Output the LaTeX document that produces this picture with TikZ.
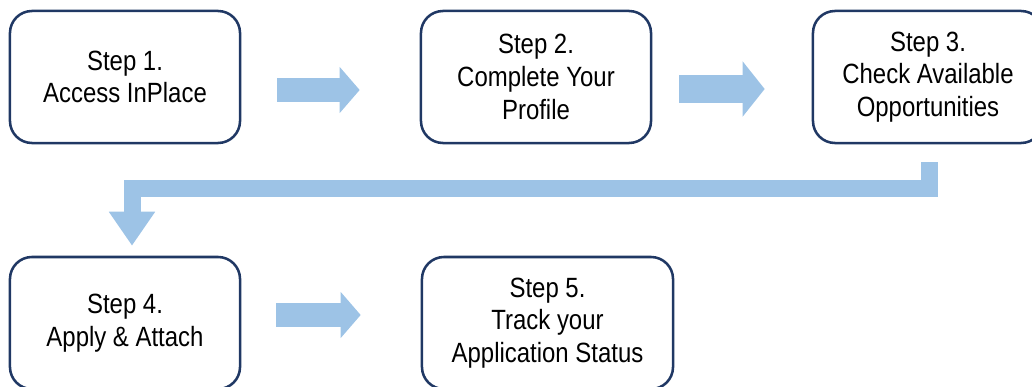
\documentclass[tikz,border=0pt]{standalone}
\usepackage{fontspec}
\setmainfont{Liberation Sans}[FakeStretch=0.86]
\usepackage{xcolor}
\usetikzlibrary{arrows.meta}

\definecolor{boxline}{HTML}{203864}
\definecolor{flowblue}{HTML}{9DC3E6}

\begin{document}
\begin{tikzpicture}[x=0.025cm, y=-0.025cm,
  stepbox/.style={draw=boxline, line width=1.8pt, rounded corners=0.55cm,
    minimum width=5.75cm, minimum height=3.3cm, align=center,
    font=\fontsize{19.8}{23.2}\selectfont},
  flow/.style={draw=flowblue, line width=0.6cm,
    -{Triangle[length=0.5cm, width=1.125cm]}},
  elbow/.style={draw=flowblue, line width=0.425cm, miter limit=4,
    -{Triangle[length=0.85cm, width=1.1cm]}}]
\useasboundingbox (0,0) rectangle (1032,387);

\node[stepbox] (s1) at (125, 77) {Step 1.\\Access InPlace};
\node[stepbox] (s2) at (536, 77) {Step 2.\\Complete Your\\Profile};
\node[stepbox] (s3) at (928, 77) {Step 3.\\Check Available\\Opportunities};
\node[stepbox] (s4) at (125, 323) {Step 4.\\Apply \& Attach};
\node[stepbox, minimum width=6.275cm] (s5) at (547.5, 323) {Step 5.\\Track your\\Application Status};

\draw[flow, shorten <=0.9cm, shorten >=1.5cm] ([yshift=-0.325cm]s1.east) -- ([yshift=-0.325cm]s2.west);
\draw[flow, line width=0.7cm, -{Triangle[length=0.55cm, width=1.35cm]},
  shorten <=0.675cm, shorten >=1.175cm] ([yshift=-0.3cm]s2.east) -- ([yshift=-0.3cm]s3.west);
\draw[elbow, shorten <=0.45cm, shorten >=0.25cm] ([xshift=0.025cm]s3.south) -- ++(0,44.5) -| ([xshift=0.175cm]s4.north);
\draw[flow, shorten <=0.875cm, shorten >=1.5cm] ([yshift=0.2cm]s4.east) -- ([yshift=0.2cm]s4.east -| s5.west);

\end{tikzpicture}
\end{document}
